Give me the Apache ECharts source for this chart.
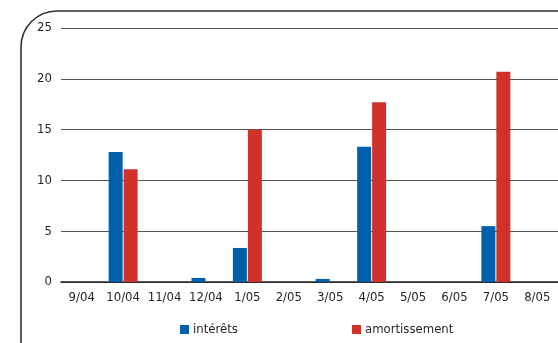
<!DOCTYPE html>
<html>
<head>
<meta charset="utf-8">
<style>
  html, body { margin: 0; padding: 0; background: #fff; }
  #chart { width: 558px; height: 343px; }
</style>
<script src="https://cdn.jsdelivr.net/npm/echarts@6/dist/echarts.min.js"></script>
</head>
<body>
<div id="chart"></div>
<script>
// Monthly schedule: interest vs. principal repayment
const months = ['9/04', '10/04', '11/04', '12/04', '1/05', '2/05', '3/05', '4/05', '5/05', '6/05', '7/05', '8/05'];
const interets = [0, 12.8, 0, 0.4, 3.35, 0, 0.3, 13.3, 0, 0, 5.5, 0];
const amortissement = [0, 11.1, 0, 0, 15.0, 0, 0, 17.7, 0, 0, 20.7, 0];
const yTicks = [0, 5, 10, 15, 20, 25];

const FONT = '"Liberation Sans Narrow", "DejaVu Sans Condensed", "Roboto", sans-serif';
const TEXT = '#262626';
const BLUE = '#0060ab';
const RED = '#d1312b';

const chart = echarts.init(document.getElementById('chart'), null, { renderer: 'canvas' });

const legendText = { fontFamily: FONT, fontSize: 13, color: TEXT, padding: [0, 0, 0, -1] };

chart.setOption({
  animation: false,
  backgroundColor: '#fff',
  textStyle: { fontFamily: FONT, color: TEXT },
  graphic: [{
    // rounded frame, only its top and left edges fall inside the canvas
    type: 'rect',
    shape: { x: 21, y: 11, width: 700, height: 500, r: 36 },
    style: { fill: 'none', stroke: '#333', lineWidth: 1.6 },
    silent: true,
    z: 0
  }],
  legend: [{
    data: ['intérêts'],
    left: 180, top: 323, padding: 0,
    itemWidth: 9, itemHeight: 9, itemGap: 4,
    icon: 'rect',
    textStyle: legendText
  }, {
    data: ['amortissement'],
    left: 352, top: 323, padding: 0,
    itemWidth: 9, itemHeight: 9, itemGap: 4,
    icon: 'rect',
    textStyle: legendText
  }],
  grid: { left: 61, right: 0, top: 28, bottom: 61, containLabel: false },
  xAxis: {
    type: 'category',
    data: months,
    axisLine: { show: true, lineStyle: { color: '#222', width: 1.5 } },
    axisTick: { show: false },
    axisLabel: { fontFamily: FONT, fontSize: 13, color: TEXT, margin: 9, interval: 0 }
  },
  yAxis: {
    type: 'value',
    min: yTicks[0],
    max: yTicks[yTicks.length - 1],
    interval: yTicks[1] - yTicks[0],
    axisLine: { show: false },
    axisTick: { show: false },
    axisLabel: { fontFamily: FONT, fontSize: 13, color: TEXT, margin: 9 },
    splitLine: { show: true, lineStyle: { color: '#555', width: 1.2 } }
  },
  series: [{
    name: 'intérêts',
    type: 'bar',
    data: interets,
    barWidth: 14,
    barGap: '7%',
    itemStyle: { color: BLUE }
  }, {
    name: 'amortissement',
    type: 'bar',
    data: amortissement,
    barWidth: 14,
    barGap: '7%',
    itemStyle: { color: RED }
  }]
});
</script>
</body>
</html>
